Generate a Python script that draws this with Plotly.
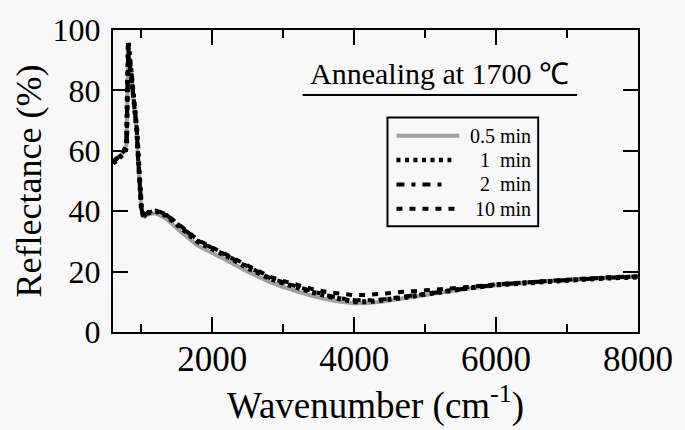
import plotly.graph_objects as go

# ---------------- data ----------------
wavenumber = [600, 650, 700, 750, 790, 800, 815, 830, 860, 880, 910, 935, 955, 980, 1000,
              1025, 1050, 1100, 1200, 1350, 1550, 1800, 2000, 2200, 2500, 2800, 3000, 3200,
              3400, 3600, 3800, 4000, 4200, 4400, 4700, 5000, 5300, 5600, 6000, 6400, 6800,
              7200, 7600, 8000]

refl_05min = [56.5, 57.5, 58.3, 59.5, 62, 78, 93, 90, 85, 79, 72, 66, 56, 46, 40.5,
              38.5, 38.2, 39, 39.3, 37.5, 33.3, 28.5, 26.2, 23.8, 20, 16.6, 14.9, 13.4,
              12, 10.9, 10, 9.5, 9.6, 10.1, 11.2, 12.4, 13.5, 14.4, 15.5, 16.3, 16.9,
              17.5, 18, 18.3]

refl_1min = [55.8, 57, 58, 59, 61, 80, 96, 92, 86, 79, 73, 67, 57, 47, 41,
             38.7, 38.3, 39.5, 40, 38.5, 34.5, 29.8, 27.5, 25.2, 21.2, 17.8, 16.2, 14.6,
             13.2, 12, 10.8, 10, 10, 10.4, 11.4, 12.5, 13.6, 14.5, 15.6, 16.3, 16.9,
             17.4, 17.9, 18.2]

refl_2min = [56, 57.3, 58.5, 59.8, 62.5, 82, 94, 91, 86.5, 80, 73.5, 67.5, 57.5, 47.5, 41.5,
             39, 38.6, 39.8, 40.2, 38.8, 34.8, 30.2, 27.8, 25.4, 21.5, 18, 16.4, 14.9,
             13.5, 12.2, 11.2, 10.6, 10.5, 10.8, 11.7, 12.7, 13.7, 14.6, 15.7, 16.4, 17,
             17.5, 18, 18.4]

refl_10min = [56.3, 57.6, 58.8, 60, 62, 79, 91, 89, 85, 79.5, 73, 67, 57, 47, 41,
              38.8, 38.5, 39.6, 40.3, 39, 35, 30.4, 28, 25.6, 21.8, 18.4, 16.9, 15.5,
              14.3, 13.3, 12.6, 12.2, 12.3, 12.8, 13.3, 13.8, 14.3, 14.9, 15.8, 16.5, 17.1,
              17.6, 18.1, 18.5]

series_names = ["0.5 min", "1\u00a0\u00a0min", "2\u00a0\u00a0min", "10 min"]
x_ticks = [2000, 4000, 6000, 8000]
y_ticks = [0, 20, 40, 60, 80, 100]

# ---------------- styles ----------------
FONT = "Liberation Serif"
BG = "#f8f8f8"
styles = [
    dict(color="#a0a0a0", width=4, dash="solid"),
    dict(color="black", width=5, dash="4px,4.5px"),
    dict(color="black", width=4, dash="8px,7px,4px,7px"),
    dict(color="black", width=4, dash="6px,7px"),
]
all_series = [refl_05min, refl_1min, refl_2min, refl_10min]

W, H = 685, 430
ML, MR, MT, MB = 113, 46, 21, 98
PW, PH = W - ML - MR, H - MT - MB


def px_x(p):
    return (p - ML) / PW


def px_y(p):
    return (H - MB - p) / PH


fig = go.Figure()
for name, ys, st in zip(series_names, all_series, styles):
    fig.add_trace(go.Scatter(x=wavenumber, y=ys, mode="lines", name=name,
                             line=st, showlegend=False))

shapes = []
annotations = []
# custom legend box
shapes.append(dict(type="rect", xref="paper", yref="paper",
                   x0=px_x(388), x1=px_x(539), y0=px_y(223), y1=px_y(111),
                   line=dict(color="black", width=2), fillcolor=BG, layer="above"))
row_y = [130, 155, 180, 205]
sample_end = [460, 452, 445, 460]
for name, st, ry, se in zip(series_names, styles, row_y, sample_end):
    shapes.append(dict(type="line", xref="paper", yref="paper",
                       x0=px_x(397), x1=px_x(se), y0=px_y(ry), y1=px_y(ry),
                       line=dict(color=st["color"], width=min(st["width"], 4.5), dash=st["dash"]),
                       layer="above"))
    annotations.append(dict(xref="paper", yref="paper", x=px_x(534), y=px_y(ry),
                            xanchor="right", yanchor="middle", showarrow=False,
                            text=name, font=dict(family=FONT, size=20, color="black")))

# title annotation with underline
annotations.append(dict(xref="paper", yref="paper", x=px_x(440), y=px_y(66),
                        xanchor="center", yanchor="middle", showarrow=False,
                        text="Annealing at 1700 ℃",
                        font=dict(family=FONT, size=30, color="black")))
shapes.append(dict(type="line", xref="paper", yref="paper",
                   x0=px_x(303), x1=px_x(578), y0=px_y(88), y1=px_y(88),
                   line=dict(color="black", width=2)))

fig.update_layout(
    width=W, height=H,
    margin=dict(l=ML, r=MR, t=MT, b=MB, pad=0),
    paper_bgcolor=BG, plot_bgcolor=BG,
    font=dict(family=FONT, color="black"),
    shapes=shapes, annotations=annotations,
    showlegend=False,
)
fig.update_xaxes(
    range=[600, 8000], tickvals=x_ticks, ticks="inside", ticklen=15, tickwidth=2,
    tickcolor="black", showline=True, linewidth=2, linecolor="black", mirror="allticks",
    showgrid=False, zeroline=False,
    tickfont=dict(family=FONT, size=35, color="black"),
    minor=dict(dtick=1000, tick0=0, ticks="inside", ticklen=8, tickwidth=2,
               tickcolor="black", showgrid=False),
    title=dict(text="Wavenumber (cm<sup>-1</sup>)", font=dict(family=FONT, size=37),
               standoff=12),
    ticklabelstandoff=-5,
)
fig.update_yaxes(
    range=[0, 100], tickvals=y_ticks, ticks="inside", ticklen=15, tickwidth=2,
    tickcolor="black", showline=True, linewidth=2, linecolor="black", mirror="allticks",
    showgrid=False, zeroline=False,
    tickfont=dict(family=FONT, size=32, color="black"),
    title=dict(text="Reflectance (%)", font=dict(family=FONT, size=36), standoff=0),
    ticklabelstandoff=4,
)

fig.write_html("out.html")
